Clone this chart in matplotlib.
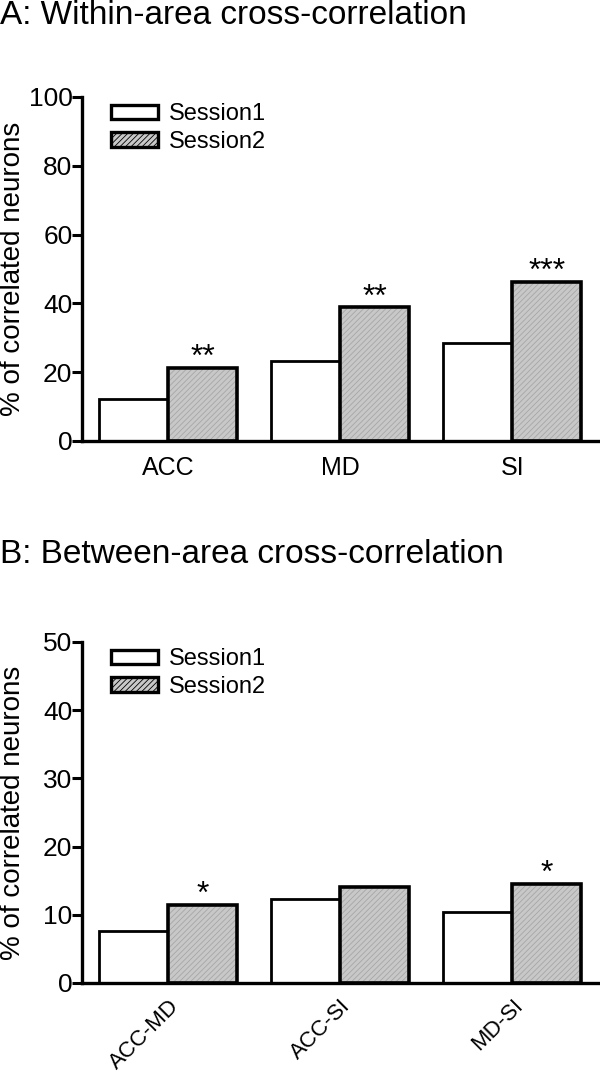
import numpy as np
import matplotlib
matplotlib.use('Agg')
import matplotlib.pyplot as plt

plt.rcParams['font.family'] = ['Liberation Sans', 'DejaVu Sans']
plt.rcParams['hatch.linewidth'] = 0.6

# 数据
areas_a = ['ACC', 'MD', 'SI']
s1_a = [12.2, 23.3, 28.5]
s2_a = [21.2, 38.8, 46.2]
stars_a = ['**', '**', '***']

areas_b = ['ACC-MD', 'ACC-SI', 'MD-SI']
s1_b = [7.6, 12.3, 10.4]
s2_b = [11.4, 14.1, 14.5]
stars_b = ['*', '', '*']

yticks_a = [0, 20, 40, 60, 80, 100]
yticks_b = [0, 10, 20, 30, 40, 50]

w = 0.4
gray = '#c8c8c8'
hatch_gray = '#a6a6a6'


def draw_panel(ax, cats, s1, s2, stars, yticks, rot):
    x = np.arange(len(cats))
    ax.bar(x - w / 2, s1, w, color='white', edgecolor='black', linewidth=2.0)
    # 先画纹理，再画黑色边框
    ax.bar(x + w / 2, s2, w, color=gray, edgecolor=hatch_gray, hatch='//////', linewidth=0)
    ax.bar(x + w / 2, s2, w, color='none', edgecolor='black', linewidth=2.6)
    for xi, v, s in zip(x, s2, stars):
        if s:
            ax.annotate(s, (xi + w / 2, v), xytext=(0, 1.5), textcoords='offset points',
                        ha='center', va='baseline', fontsize=23)

    ax.set_xlim(-0.5, 2.5)
    ax.set_ylim(yticks[0], yticks[-1])
    ax.set_yticks(yticks)
    ax.set_xticks(x)
    if rot:
        ax.set_xticklabels(cats, rotation=45, ha='right', va='top',
                           rotation_mode='anchor', fontsize=16)
        ax.tick_params(axis='x', length=0, pad=9)
    else:
        ax.set_xticklabels(cats, fontsize=18)
        ax.tick_params(axis='x', length=0, pad=11)
    ax.tick_params(axis='y', direction='out', length=7, width=2.2, labelsize=19, pad=0)
    for sp in ['top', 'right']:
        ax.spines[sp].set_visible(False)
    for sp in ['left', 'bottom']:
        ax.spines[sp].set_linewidth(2.4)
    ax.set_ylabel('% of correlated neurons', fontsize=20)
    ax.yaxis.set_label_coords(-0.108, 0.5)

    h1 = plt.Rectangle((0, 0), 1, 1, facecolor='white', edgecolor='black', linewidth=2.4)
    h2 = plt.Rectangle((0, 0), 1, 1, facecolor=gray, edgecolor='black', linewidth=2.4, hatch='//////')
    ax.legend([h1, h2], ['Session1', 'Session2'], loc='upper left',
              bbox_to_anchor=(0.037, 1.01), frameon=False, fontsize=17,
              handlelength=2.0, handleheight=0.55, handletextpad=0.45,
              labelspacing=0.25, borderaxespad=0)


fig = plt.figure(figsize=(6, 10.75), dpi=100)

ax1 = fig.add_axes([0.137, 0.5898, 0.860, 0.320])
draw_panel(ax1, areas_a, s1_a, s2_a, stars_a, yticks_a, False)
fig.text(0.0, 0.9777, 'A: Within-area cross-correlation', fontsize=24, va='baseline', ha='left')

ax2 = fig.add_axes([0.137, 0.0856, 0.860, 0.3172])
draw_panel(ax2, areas_b, s1_b, s2_b, stars_b, yticks_b, True)
fig.text(0.0, 0.4763, 'B: Between-area cross-correlation', fontsize=24, va='baseline', ha='left')

plt.savefig('out.png', dpi=100)
